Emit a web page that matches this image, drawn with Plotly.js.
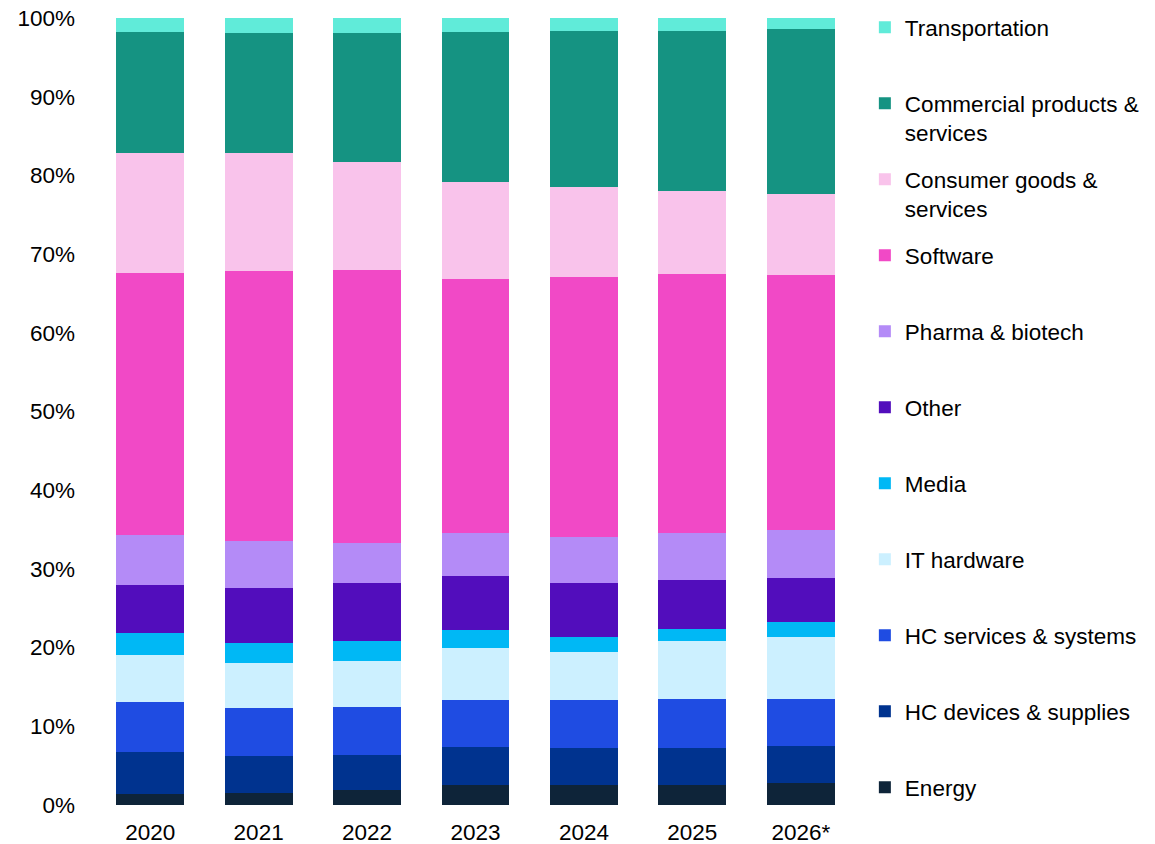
<!DOCTYPE html>
<html>
<head>
<meta charset="utf-8">
<script src="https://cdn.plot.ly/plotly-3.0.1.min.js"></script>
<style>html,body{margin:0;padding:0;background:#fff;}#chart{width:1155px;height:844px;}</style>
</head>
<body>
<div id="chart"></div>
<script>
const years = ["2020", "2021", "2022", "2023", "2024", "2025", "2026*"];

const energy        = [1.4, 1.5, 1.9, 2.5, 2.5, 2.6, 2.8];
const hcDevices     = [5.3, 4.7, 4.4, 4.9, 4.8, 4.7, 4.7];
const hcServices    = [6.4, 6.1, 6.1, 5.9, 6.1, 6.2, 6.0];
const itHardware    = [5.9, 5.8, 5.9, 6.7, 6.1, 7.3, 7.8];
const media         = [2.9, 2.5, 2.6, 2.3, 1.9, 1.6, 2.0];
const other         = [6.0, 7.0, 7.3, 6.8, 6.8, 6.2, 5.6];
const pharma        = [6.4, 6.0, 5.1, 5.5, 5.8, 6.0, 6.1];
const software      = [33.3, 34.3, 34.7, 32.2, 33.1, 32.9, 32.3];
const consumer      = [15.2, 15.0, 13.7, 12.4, 11.4, 10.5, 10.4];
const commercial    = [15.4, 15.2, 16.4, 19.0, 19.8, 20.4, 20.9];
const transportation= [1.8, 1.9, 1.9, 1.8, 1.7, 1.6, 1.4];

const seriesNames = [
  "Energy",
  "HC devices & supplies",
  "HC services & systems",
  "IT hardware",
  "Media",
  "Other",
  "Pharma & biotech",
  "Software",
  "Consumer goods &<br>services",
  "Commercial products &<br>services",
  "Transportation"
];
const seriesValues = [energy, hcDevices, hcServices, itHardware, media, other, pharma, software, consumer, commercial, transportation];
const seriesColors = ["#0E2439", "#00338F", "#1F4CE2", "#CCF0FF", "#00B8F5", "#520DBC", "#B48BF7", "#F149C6", "#F9C3EB", "#159382", "#60EBD9"];

const traces = seriesNames.map((name, i) => ({
  type: "bar",
  x: years,
  y: seriesValues[i],
  name: (name.indexOf("<br>") >= 0 || i === 0) ? name : name + "<br>&nbsp;",
  legendgroup: "g" + i,
  legendrank: (seriesNames.length - i) * 10,
  marker: { color: seriesColors[i], line: { width: 0 } },
  hoverinfo: "x+y+name"
}));

const layout = {
  width: 1155,
  height: 844,
  barmode: "stack",
  bargap: 0.373,
  paper_bgcolor: "#ffffff",
  plot_bgcolor: "#ffffff",
  font: { family: "Liberation Sans, Arial, sans-serif", size: 22, color: "#000000" },
  margin: { l: 96, r: 300, t: 18, b: 39, pad: 0, autoexpand: false },
  xaxis: {
    type: "category",
    showgrid: false,
    zeroline: false,
    showline: false,
    ticks: "",
    tickfont: { size: 22.5, color: "#000000" },
    ticklabelstandoff: 11,
    automargin: false
  },
  yaxis: {
    range: [0, 100],
    dtick: 10,
    tick0: 0,
    ticksuffix: "%",
    showgrid: false,
    zeroline: false,
    showline: false,
    ticks: "",
    tickfont: { size: 22.5, color: "#000000" },
    ticklabelstandoff: 20,
    automargin: false
  },
  legend: {
    x: 1.013,
    xanchor: "left",
    y: 1.0152,
    yanchor: "top",
    traceorder: "grouped",
    tracegroupgap: 14.5,
    valign: "top",
    itemwidth: 30,
    maxheight: 1000,
    font: { size: 22.5, color: "#000000" },
    bgcolor: "rgba(0,0,0,0)"
  },
  showlegend: true
};

Plotly.newPlot("chart", traces, layout, { displayModeBar: false, staticPlot: true });
</script>
</body>
</html>
